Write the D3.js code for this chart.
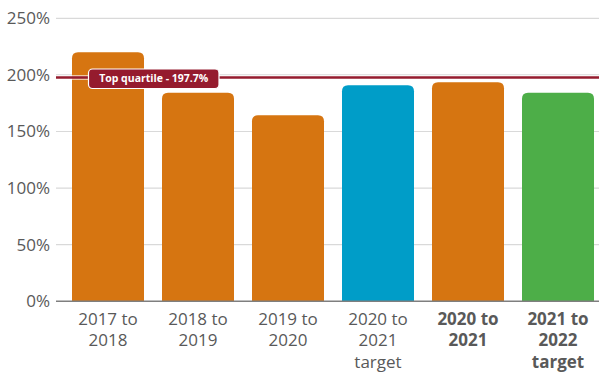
<!DOCTYPE html>
<html><head><meta charset="utf-8">
<script src="https://cdn.jsdelivr.net/npm/d3@7"></script>
<style>body{margin:0;background:#fff;} svg{display:block;font-family:"Open Sans",sans-serif;}</style>
</head><body><svg id="c" width="599" height="372"></svg>
<script>
const categories = [["2017 to","2018"],["2018 to","2019"],["2019 to","2020"],["2020 to","2021","target"],["2020 to","2021"],["2021 to","2022","target"]];
const values = [220, 184.3, 164.3, 190.8, 193.5, 184.3];
const barColors = ["#D67511","#D67511","#D67511","#009DC8","#D67511","#4DAE48"];
const boldLabels = [false,false,false,false,true,true];
const yTicks = [0,50,100,150,200,250];
const topQuartile = 197.7;
const topQuartileLabel = "Top quartile - 197.7%";

const svg = d3.select("#c");
const x = d3.scaleBand().domain(d3.range(categories.length)).range([63,603]).paddingInner(0.2).paddingOuter(0.1);
const y = d3.scaleLinear().domain([0,250]).range([301.3,18.3]);

// gridlines
svg.append("g").selectAll("line").data(yTicks.filter(d=>d>0)).join("line")
  .attr("x1",56).attr("x2",599).attr("y1",d=>y(d)).attr("y2",d=>y(d))
  .attr("stroke","#d9d9d9").attr("stroke-width",1.2);

// y tick labels
svg.append("g").selectAll("text").data(yTicks).join("text")
  .attr("x",50).attr("y",d=>y(d)).attr("dy","0.35em").attr("text-anchor","end")
  .attr("font-size",17).attr("fill","#595959").text(d=>d+"%");

// bars with rounded top corners
const r = 6;
svg.append("g").selectAll("path").data(values).join("path")
  .attr("fill",(d,i)=>barColors[i])
  .attr("d",(d,i)=>{
    const x0=x(i), w=x.bandwidth(), y0=y(d), y1=y(0);
    return `M${x0},${y1}V${y0+r}Q${x0},${y0} ${x0+r},${y0}H${x0+w-r}Q${x0+w},${y0} ${x0+w},${y0+r}V${y1}Z`;
  });

// baseline
svg.append("line").attr("x1",56).attr("x2",599).attr("y1",y(0)).attr("y2",y(0))
  .attr("stroke","#7f7f7f").attr("stroke-width",1.5);

// top quartile line
svg.append("line").attr("x1",56).attr("x2",599).attr("y1",y(topQuartile)).attr("y2",y(topQuartile))
  .attr("stroke","#fff").attr("stroke-width",5).attr("stroke-opacity",0.6);
svg.append("line").attr("x1",56).attr("x2",599).attr("y1",y(topQuartile)).attr("y2",y(topQuartile))
  .attr("stroke","#951B2E").attr("stroke-width",2.5);
const ly = y(topQuartile);
svg.append("rect").attr("x",88.5).attr("y",ly-8.5).attr("width",130.5).attr("height",19.5).attr("rx",4)
  .attr("fill","#951B2E").attr("stroke","#fff").attr("stroke-width",1.2);
svg.append("text").attr("x",153.7).attr("y",ly+1.2).attr("dy","0.35em").attr("text-anchor","middle")
  .attr("font-size",10.5).attr("font-weight","bold").attr("fill","#fff").text(topQuartileLabel);

// category labels
const cg = svg.append("g").selectAll("text").data(categories).join("text")
  .attr("text-anchor","middle").attr("font-size",17).attr("fill","#595959")
  .attr("font-weight",(d,i)=>boldLabels[i]?"bold":"normal")
  .attr("x",(d,i)=>x(i)+x.bandwidth()/2);
cg.selectAll("tspan").data(d=>d).join("tspan")
  .attr("x",function(){return this.parentNode.getAttribute("x");})
  .attr("y",(d,j)=>325+j*21.3).text(d=>d);
</script></body></html>
